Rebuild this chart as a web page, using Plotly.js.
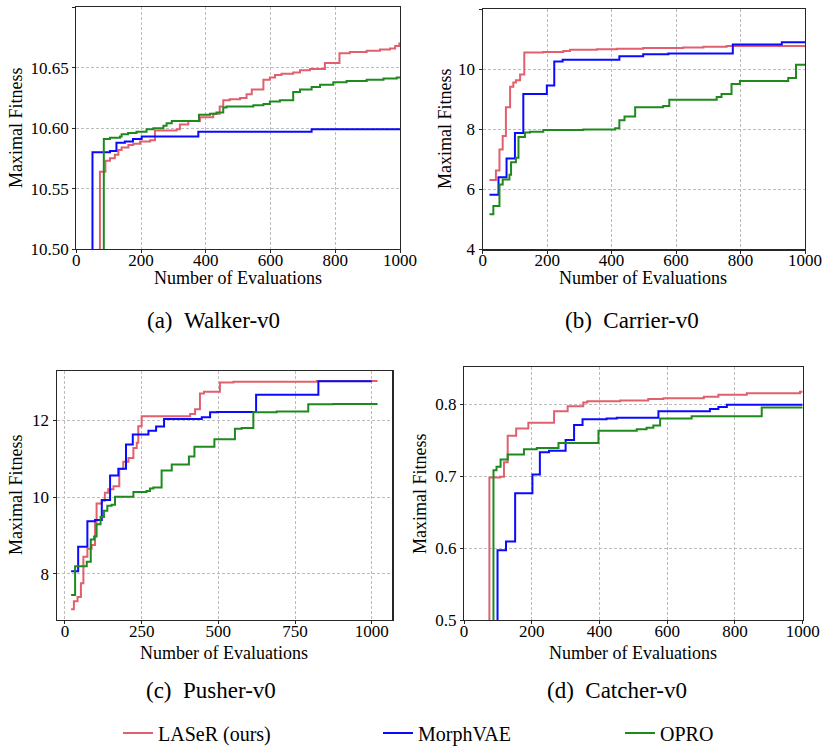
<!DOCTYPE html>
<html>
<head>
<meta charset="utf-8">
<script src="https://cdn.plot.ly/plotly-3.0.1.min.js"></script>
<style>html,body{margin:0;padding:0;background:#fff;}#chart{width:825px;height:746px;}</style>
</head>
<body>
<div id="chart"></div>
<script>
// ---------------- DATA ----------------
const methods = ["LASeR (ours)", "MorphVAE", "OPRO"];
const panelTitles = ["(a)\u2002Walker-v0", "(b)\u2002Carrier-v0", "(c)\u2002Pusher-v0", "(d)\u2002Catcher-v0"];
const xTitle = "Number of Evaluations";
const yTitle = "Maximal Fitness";

// (a) Walker-v0
const walkerLaserX = [25, 73, 90, 104, 119, 130, 140, 161, 176, 197, 228, 243, 310, 320, 346, 382, 423, 443, 454, 474, 506, 526, 542, 578, 598, 614, 634, 670, 691, 722, 768, 813, 845, 897, 938, 969, 985, 998, 1000];
const walkerLaserY = [10.40, 10.564, 10.573, 10.575, 10.578, 10.582, 10.584, 10.586, 10.587, 10.589, 10.590, 10.598, 10.599, 10.603, 10.606, 10.609, 10.612, 10.618, 10.623, 10.624, 10.625, 10.628, 10.632, 10.640, 10.642, 10.644, 10.645, 10.646, 10.648, 10.649, 10.654, 10.662, 10.663, 10.664, 10.665, 10.666, 10.668, 10.670, 10.670];
const walkerMorphX = [25, 50, 104, 124, 150, 175, 202, 377, 727, 1000];
const walkerMorphY = [10.40, 10.580, 10.581, 10.588, 10.589, 10.591, 10.593, 10.597, 10.599, 10.599];
const walkerOproX = [25, 85, 104, 135, 140, 160, 186, 217, 238, 269, 279, 295, 379, 413, 433, 454, 464, 547, 578, 598, 629, 670, 691, 727, 753, 794, 835, 897, 949, 990, 1000];
const walkerOproY = [10.40, 10.591, 10.592, 10.593, 10.595, 10.596, 10.597, 10.599, 10.600, 10.602, 10.604, 10.606, 10.611, 10.612, 10.613, 10.617, 10.618, 10.619, 10.620, 10.622, 10.623, 10.630, 10.632, 10.634, 10.636, 10.638, 10.639, 10.640, 10.641, 10.642, 10.642];

// (b) Carrier-v0
const carrierLaserX = [21, 41, 52, 62, 72, 85, 95, 103, 116, 129, 188, 250, 271, 354, 416, 498, 622, 685, 757, 1000];
const carrierLaserY = [6.31, 6.62, 7.32, 7.77, 8.73, 9.41, 9.55, 9.63, 9.82, 10.55, 10.57, 10.60, 10.64, 10.66, 10.68, 10.70, 10.72, 10.74, 10.77, 10.77];
const carrierMorphX = [21, 49, 74, 100, 126, 199, 222, 248, 424, 498, 576, 776, 928, 1000];
const carrierMorphY = [5.82, 6.40, 7.02, 7.87, 9.17, 9.45, 10.25, 10.31, 10.43, 10.49, 10.52, 10.82, 10.89, 10.89];
const carrierOproX = [21, 33, 52, 62, 83, 88, 103, 111, 131, 147, 188, 312, 411, 424, 440, 473, 560, 579, 726, 741, 772, 798, 948, 972, 1000];
const carrierOproY = [5.17, 5.44, 6.16, 6.32, 6.48, 6.90, 7.05, 7.74, 7.89, 7.91, 7.97, 7.99, 8.03, 8.30, 8.42, 8.73, 8.77, 8.98, 9.07, 9.17, 9.50, 9.60, 9.70, 10.14, 10.14];

// (c) Pusher-v0
const pusherLaserX = [20, 29, 41, 52, 60, 73, 87, 98, 103, 120, 130, 141, 158, 177, 190, 207, 223, 234, 239, 250, 408, 424, 440, 453, 505, 549, 821, 1019];
const pusherLaserY = [7.07, 7.28, 7.39, 7.75, 8.44, 8.65, 8.75, 9.33, 9.83, 9.90, 10.11, 10.20, 10.28, 10.73, 10.92, 11.02, 11.28, 11.42, 11.85, 12.11, 12.17, 12.29, 12.70, 12.75, 12.99, 13.01, 13.03, 13.03];
const pusherMorphX = [20, 43, 73, 98, 120, 147, 174, 199, 221, 272, 297, 323, 446, 473, 497, 623, 826, 1000];
const pusherMorphY = [8.06, 8.70, 9.37, 9.40, 9.92, 10.56, 10.74, 11.37, 11.63, 11.73, 11.84, 12.04, 12.08, 12.21, 12.22, 12.67, 13.02, 13.02];
const pusherOproX = [20, 33, 71, 84, 95, 103, 116, 127, 138, 152, 163, 223, 266, 277, 288, 315, 348, 404, 422, 487, 554, 576, 614, 690, 793, 820, 875, 1019];
const pusherOproY = [7.44, 8.19, 8.31, 8.89, 8.97, 9.29, 9.48, 9.64, 9.77, 9.80, 10.01, 10.13, 10.16, 10.22, 10.25, 10.69, 10.85, 11.06, 11.31, 11.51, 11.78, 11.80, 12.21, 12.23, 12.42, 12.42, 12.43, 12.43];

// (d) Catcher-v0
const catcherLaserX = [25, 75, 106, 118, 129, 154, 190, 266, 306, 352, 364, 461, 544, 589, 708, 751, 835, 992, 1000];
const catcherLaserY = [0.40, 0.698, 0.699, 0.719, 0.756, 0.766, 0.774, 0.790, 0.797, 0.802, 0.804, 0.805, 0.807, 0.808, 0.810, 0.813, 0.815, 0.817, 0.817];
const catcherMorphX = [25, 99, 124, 151, 202, 224, 251, 300, 325, 350, 421, 451, 574, 726, 751, 776, 1000];
const catcherMorphY = [0.40, 0.597, 0.609, 0.676, 0.702, 0.733, 0.735, 0.750, 0.771, 0.779, 0.780, 0.781, 0.790, 0.793, 0.796, 0.799, 0.799];
const catcherOproX = [25, 87, 96, 108, 129, 177, 215, 279, 397, 510, 539, 559, 579, 672, 879, 1000];
const catcherOproY = [0.40, 0.708, 0.713, 0.723, 0.730, 0.737, 0.739, 0.746, 0.763, 0.765, 0.767, 0.770, 0.780, 0.783, 0.795, 0.795];

// ---------------- STYLE ----------------
const colors = ["#e0606e", "#0a0aff", "#1e8a1e"];
const FONT = "Liberation Serif";

const panels = [
  {xs: [walkerLaserX, walkerMorphX, walkerOproX], ys: [walkerLaserY, walkerMorphY, walkerOproY]},
  {xs: [carrierLaserX, carrierMorphX, carrierOproX], ys: [carrierLaserY, carrierMorphY, carrierOproY]},
  {xs: [pusherLaserX, pusherMorphX, pusherOproX], ys: [pusherLaserY, pusherMorphY, pusherOproY]},
  {xs: [catcherLaserX, catcherMorphX, catcherOproX], ys: [catcherLaserY, catcherMorphY, catcherOproY]}
];
const legendIds = ["legend", "legend2", "legend3"];

const traces = [];
panels.forEach((p, i) => {
  const ax = i === 0 ? "" : String(i + 1);
  for (let m = 0; m < 3; m++) {
    traces.push({
      x: p.xs[m], y: p.ys[m], type: "scatter", mode: "lines",
      line: {shape: "hv", color: colors[m], width: 2},
      name: methods[m], legend: legendIds[m], showlegend: i === 0,
      xaxis: "x" + ax, yaxis: "y" + ax, hoverinfo: "skip"
    });
  }
});

const W = 825, H = 746;
function dx(a, b) { return [a / W, b / W]; }
function dy(top, bottom) { return [1 - bottom / H, 1 - top / H]; }

function common() {
  return {
    showline: true, linecolor: "#262626", linewidth: 1.2, mirror: true,
    ticks: "outside", ticklen: 3, tickcolor: "#262626",
    showgrid: true, gridcolor: "#bdbdbd", griddash: "3px,2px", gridwidth: 1,
    zeroline: false, tickfont: {family: FONT, size: 17, color: "#000"}, fixedrange: true
  };
}
function xAxis(domain, range, dtick, anchor) {
  return Object.assign(common(), {domain: domain, range: range, dtick: dtick, tick0: 0, anchor: anchor, ticklabelstandoff: -8});
}
function yAxis(domain, range, tickvals, fmt, anchor) {
  return Object.assign(common(), {domain: domain, range: range, tickvals: tickvals, tickformat: fmt, anchor: anchor});
}

const ann = [];
function txt(text, x, y, size, rot) {
  ann.push({text: text, x: x / W, y: 1 - y / H, xref: "paper", yref: "paper",
    showarrow: false, xanchor: "center", yanchor: "middle", textangle: rot || 0,
    font: {family: FONT, size: size, color: "#000"}});
}
// axis titles
txt(xTitle, 238, 278, 18); txt(yTitle, 16, 128, 18, -90);
txt(xTitle, 643, 278, 18); txt(yTitle, 445, 129, 18, -90);
txt(xTitle, 224, 653, 18); txt(yTitle, 16, 495, 18, -90);
txt(xTitle, 633, 653, 18); txt(yTitle, 420, 493, 18, -90);
// captions
txt(panelTitles[0], 213, 320, 23);
txt(panelTitles[1], 632, 320, 23);
txt(panelTitles[2], 211, 690, 23);
txt(panelTitles[3], 617, 690, 23);

function leg(xpx) {
  return {orientation: "h", x: xpx / W, y: 1 - 733 / H, xanchor: "left", yanchor: "middle",
    font: {family: FONT, size: 20, color: "#000"}, bgcolor: "rgba(0,0,0,0)", borderwidth: 0};
}

const layout = {
  width: W, height: H,
  margin: {l: 0, r: 0, t: 0, b: 0, autoexpand: false},
  paper_bgcolor: "#fff", plot_bgcolor: "#fff",
  font: {family: FONT, color: "#000"},
  xaxis: xAxis(dx(76.3, 400), [0, 1000], 200, "y"),
  yaxis: yAxis(dy(7.3, 249), [10.50, 10.70], [10.50, 10.55, 10.60, 10.65, 10.70], ".2f", "x"),
  xaxis2: xAxis(dx(482.7, 805), [0, 1000], 200, "y2"),
  yaxis2: yAxis(dy(9, 249.3), [4, 12], [4, 6, 8, 10, 12], "d", "x2"),
  xaxis3: xAxis(dx(56.7, 392.3), [-27, 1067], 250, "y3"),
  yaxis3: yAxis(dy(371, 620), [6.79, 13.29], [8, 10, 12], "d", "x3"),
  xaxis4: xAxis(dx(464, 802.7), [0, 1000], 200, "y4"),
  yaxis4: yAxis(dy(367.3, 620), [0.5, 0.851], [0.5, 0.6, 0.7, 0.8], ".1f", "x4"),
  showlegend: true,
  legend: leg(118), legend2: leg(378), legend3: leg(620),
  annotations: ann
};

Plotly.newPlot("chart", traces, layout, {staticPlot: true, displayModeBar: false});
</script>
</body>
</html>
